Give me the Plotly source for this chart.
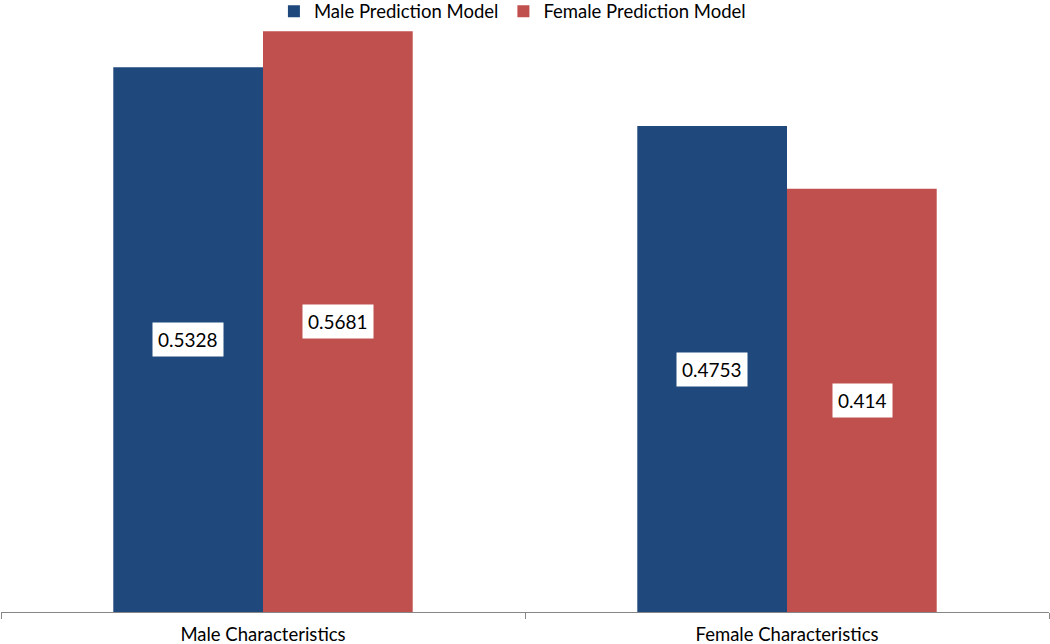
import plotly.graph_objects as go

categories = ["Male Characteristics", "Female Characteristics"]
male_model = [0.5328, 0.4753]
female_model = [0.5681, 0.414]
series_names = ["Male Prediction Model", "Female Prediction Model"]
colors = ["#1F497D", "#C0504D"]

fig = go.Figure()
for name, vals, col in zip(series_names, [male_model, female_model], colors):
    fig.add_trace(go.Bar(x=categories, y=vals, name=name, marker=dict(color=col, line=dict(width=0))))

font_fam = "Lato, Open Sans, sans-serif"
for vals, shift in [(male_model, -75), (female_model, 75)]:
    for c, v in zip(categories, vals):
        fig.add_annotation(x=c, y=v / 2, xref="x", yref="y", xshift=shift,
                           text=f"{v:g}", showarrow=False, bgcolor="white",
                           borderpad=5, font=dict(family=font_fam, size=19, color="black"))

fig.update_layout(
    width=1050, height=644,
    margin=dict(l=1, r=1, t=0, b=32, autoexpand=False),
    paper_bgcolor="white", plot_bgcolor="white",
    barmode="group", bargap=0.4286, bargroupgap=0,
    showlegend=True,
    legend=dict(orientation="h", x=0.488, xanchor="center", y=1.012, yanchor="top",
                font=dict(family=font_fam, size=18.5, color="black"),
                bgcolor="rgba(0,0,0,0)", itemwidth=30),
    xaxis=dict(showline=True, linecolor="#868686", linewidth=1, ticks="outside",
               tickson="boundaries", ticklen=6, tickcolor="#868686", ticklabelstandoff=6,
               tickfont=dict(family=font_fam, size=18.5, color="black"), showgrid=False),
    yaxis=dict(range=[0, 0.5986], visible=False, showgrid=False, zeroline=False),
)

fig.write_html("out.html", config={"displayModeBar": False},
               post_script="document.body.style.margin='0';")
